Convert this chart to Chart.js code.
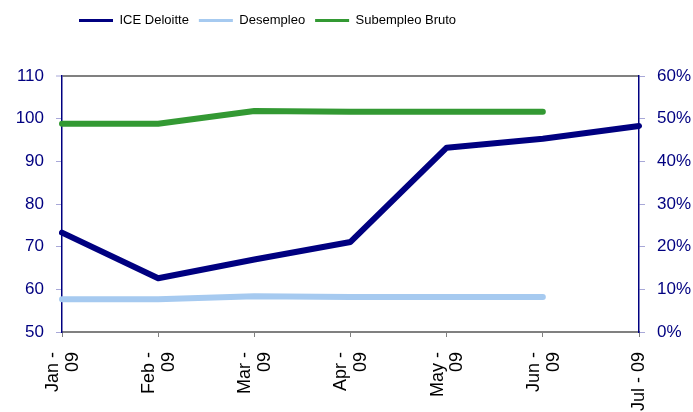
<!DOCTYPE html>
<html>
<head>
<meta charset="utf-8">
<script src="https://cdn.jsdelivr.net/npm/chart.js@4.4.1/dist/chart.umd.min.js"></script>
<style>
html,body{margin:0;padding:0;background:#fff;}
#wrap{width:693px;height:412px;position:relative;}
</style>
</head>
<body>
<div id="wrap"><canvas id="c" width="693" height="412"></canvas></div>
<script>
const categories = [["Jan -","09"],["Feb -","09"],["Mar -","09"],["Apr -","09"],["May -","09"],["Jun -","09"],["","Jul - 09"]];
const iceDeloitte = [73.3, 62.6, 67.0, 71.1, 93.2, 95.3, 98.3];
const desempleo = [7.7, 7.7, 8.4, 8.2, 8.2, 8.2, null];
const subempleoBruto = [48.8, 48.8, 51.8, 51.6, 51.6, 51.6, null];
const leftTicks = [50, 60, 70, 80, 90, 100, 110];
const rightTicks = [0, 10, 20, 30, 40, 50, 60];

const FONT = "'Liberation Sans', Arial, sans-serif";
const NAVY = '#000080';

const legendPlace = {
  id: 'legendPlace',
  beforeInit(chart) {
    const fit = chart.legend.fit;
    chart.legend.fit = function () {
      fit.bind(chart.legend)();
      this.height += 39;
    };
  },
  afterLayout(chart) {
    const lg = chart.legend;
    const w = lg.right - lg.left;
    lg.left = 69;
    lg.right = 69 + w;
  }
};

new Chart(document.getElementById('c'), {
  type: 'line',
  data: {
    labels: categories,
    datasets: [
      { label: 'ICE Deloitte', data: iceDeloitte, yAxisID: 'y', borderColor: NAVY, backgroundColor: NAVY, borderWidth: 6, pointRadius: 0, tension: 0, borderCapStyle: 'round', borderJoinStyle: 'round' },
      { label: 'Desempleo', data: desempleo, yAxisID: 'y2', borderColor: '#a6caf0', backgroundColor: '#a6caf0', borderWidth: 6, pointRadius: 0, tension: 0, borderCapStyle: 'round', borderJoinStyle: 'round' },
      { label: 'Subempleo Bruto', data: subempleoBruto, yAxisID: 'y2', borderColor: '#339933', backgroundColor: '#339933', borderWidth: 6, pointRadius: 0, tension: 0, borderCapStyle: 'round', borderJoinStyle: 'round' }
    ]
  },
  options: {
    responsive: false,
    animation: false,
    devicePixelRatio: 1,
    layout: { padding: { top: 4, left: 0, right: 0, bottom: 0 } },
    plugins: {
      tooltip: { enabled: false },
      legend: {
        position: 'top',
        align: 'start',
        labels: {
          boxWidth: 34, boxHeight: 3, padding: 10, color: '#000',
          font: { family: FONT, size: 13 },
          generateLabels(chart) {
            return Chart.defaults.plugins.legend.labels.generateLabels(chart).map(l => Object.assign(l, { lineWidth: 0 }));
          }
        }
      }
    },
    scales: {
      x: {
        type: 'category',
        offset: false,
        grid: { display: true, drawOnChartArea: false, drawTicks: true, tickLength: 5, color: '#808080' },
        border: { display: true, color: '#808080', width: 2 },
        ticks: {
          color: '#000', maxRotation: 90, minRotation: 90, autoSkip: false, padding: 15, labelOffset: -9,
          font: (ctx) => ctx.index === 6 ? { family: FONT, size: 18, lineHeight: 0.5 } : { family: FONT, size: 18, lineHeight: 1.1 }
        },
        afterFit(s) { s.height = 80; }
      },
      y: {
        position: 'left',
        min: 50, max: 110,
        afterBuildTicks(s) { s.ticks = leftTicks.map(v => ({ value: v })); },
        grid: {
          display: true, drawOnChartArea: true, tickLength: 6,
          color: (ctx) => ctx.tick && ctx.tick.value === 110 ? '#808080' : 'rgba(0,0,0,0)',
          lineWidth: (ctx) => ctx.tick && ctx.tick.value === 110 ? 2 : 1,
          tickColor: '#a8a8d8', tickWidth: 1
        },
        border: { display: true, color: NAVY, width: 1.5 },
        ticks: { color: NAVY, padding: 12, font: { family: FONT, size: 17 } },
        afterFit(s) { s.width = 62; }
      },
      y2: {
        position: 'right',
        min: 0, max: 60,
        afterBuildTicks(s) { s.ticks = rightTicks.map(v => ({ value: v })); },
        grid: { display: true, drawOnChartArea: false, tickLength: 6, color: '#a8a8d8' },
        border: { display: true, color: NAVY, width: 1.5 },
        ticks: { color: NAVY, padding: 12, font: { family: FONT, size: 17 }, callback: v => v + '%' },
        afterFit(s) { s.width = 54; }
      }
    }
  },
  plugins: [legendPlace]
});
</script>
</body>
</html>
